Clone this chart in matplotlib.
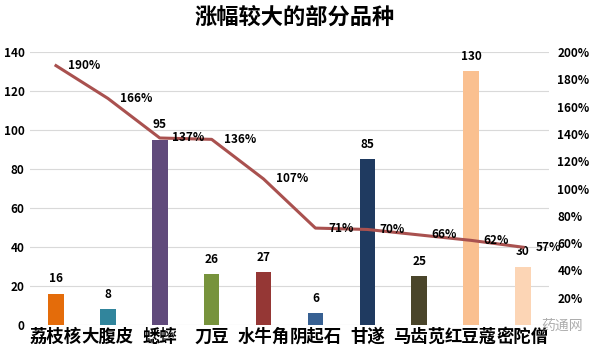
import matplotlib.pyplot as plt
from matplotlib.ticker import FuncFormatter

plt.rcParams['font.family'] = ['Noto Sans CJK SC', 'DejaVu Sans']

# 数据
品种 = ['荔枝核', '大腹皮', '蟋蟀', '刀豆', '水牛角', '阴起石', '甘遂', '马齿苋', '红豆蔻', '密陀僧']
价格 = [16, 8, 95, 26, 27, 6, 85, 25, 130, 30]
涨幅 = [190, 166, 137, 136, 107, 71, 70, 66, 62, 57]
颜色 = ['#E46C0A', '#31859C', '#604A7B', '#77933C', '#953735',
        '#376092', '#1F3A60', '#4A452A', '#FAC090', '#FCD5B5']

fig = plt.figure(figsize=(5.89, 3.56), dpi=100)
ax1 = fig.add_axes([0.051, 0.087, 0.881, 0.767])
ax2 = ax1.twinx()

x = range(len(品种))
ax1.bar(x, 价格, width=0.3, color=颜色, zorder=2)
ax1.set_ylim(0, 140)
ax1.set_yticks(range(0, 141, 20))
ax1.set_xlim(-0.5, len(品种) - 0.5)
ax1.grid(axis='y', color='#D9D9D9', linewidth=0.8, zorder=0)
ax1.set_axisbelow(True)

for i, v in enumerate(价格):
    ax1.annotate(str(v), (i, v), xytext=(0, 6), textcoords='offset points',
                 ha='center', va='bottom', fontsize=8.5, fontweight='bold')

# 涨幅折线（右轴）
ax2.plot(x, 涨幅, color='#A9514F', linewidth=2.2, zorder=3)
ax2.set_ylim(0, 200)
ax2.set_yticks(range(20, 201, 20))
ax2.yaxis.set_major_formatter(FuncFormatter(lambda v, p: f'{int(v)}%'))
for i, v in enumerate(涨幅):
    ax2.annotate(f'{v}%', (i, v), xytext=(9, 0), textcoords='offset points',
                 ha='left', va='center', fontsize=8.5, fontweight='bold')

for ax in (ax1, ax2):
    for s in ax.spines.values():
        s.set_visible(False)
    ax.tick_params(length=0, labelsize=8.5)
    for lab in ax.get_yticklabels():
        lab.set_fontweight('bold')

ax1.set_xticks(list(x))
ax1.set_xticklabels(品种, fontsize=12.5, fontweight='bold')
ax1.tick_params(axis='x', pad=2)
ax1.tick_params(axis='y', pad=4)
ax2.tick_params(axis='y', pad=6)

fig.suptitle('涨幅较大的部分品种', fontsize=16, fontweight='bold', y=0.985)

# 水印
fig.text(0.955, 0.085, '药通网', fontsize=10, color='#999999', ha='center', va='center', alpha=0.8)

fig.savefig('out.png', dpi=100)
